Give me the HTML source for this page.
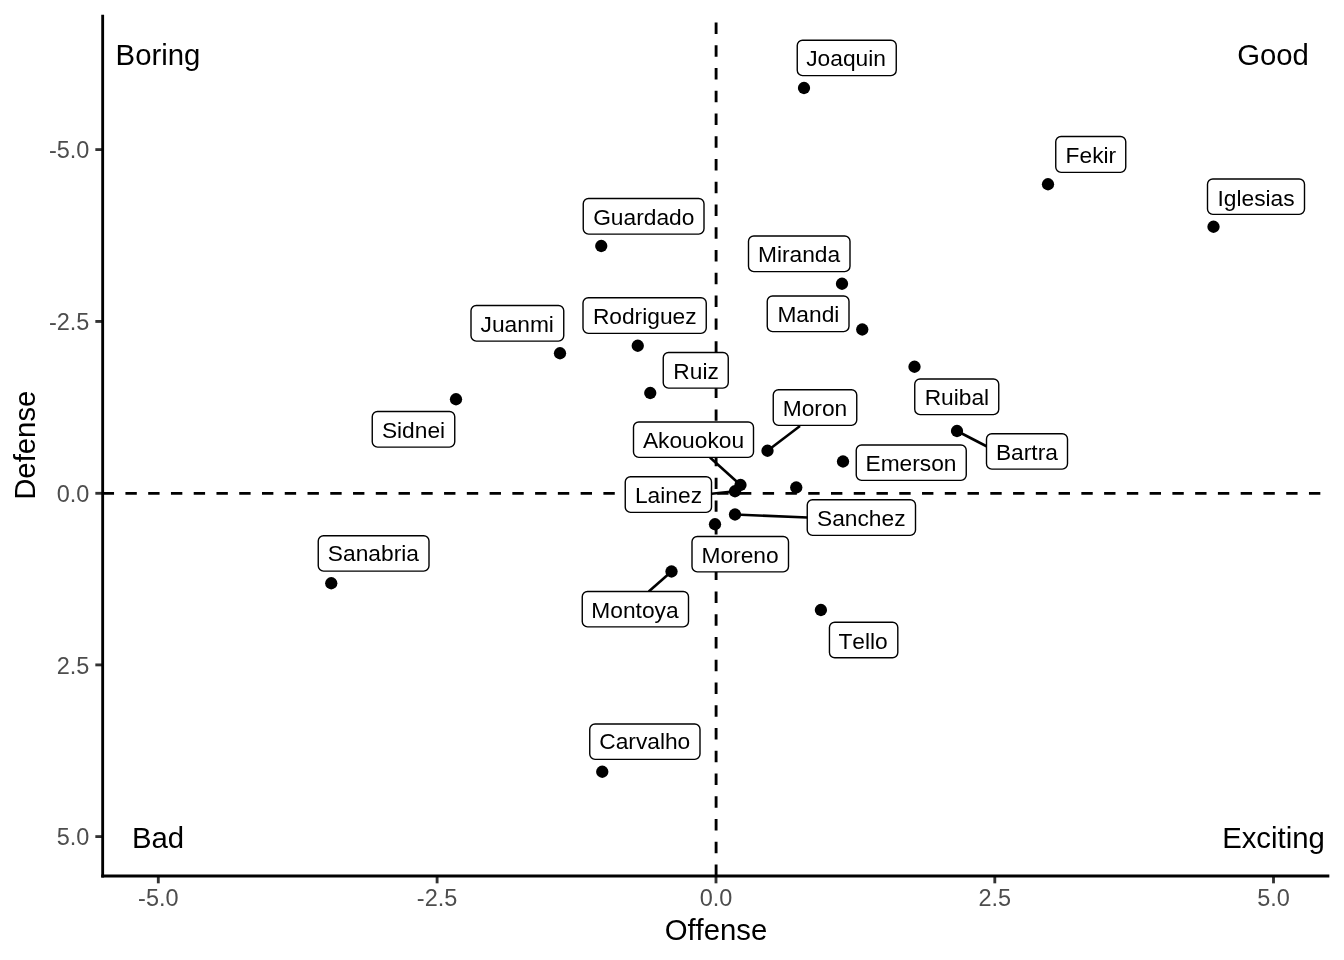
<!DOCTYPE html>
<html lang="en">
<head>
<meta charset="utf-8">
<title>Offense vs Defense</title>
<style>
html,body{margin:0;padding:0;background:#fff;}
body{width:1344px;height:960px;overflow:hidden;}
svg{display:block;}
text{font-family:"Liberation Sans",Arial,Helvetica,sans-serif;font-kerning:none;}
.tick{font-size:23.47px;fill:#4d4d4d;}
.title{font-size:29.33px;fill:#000;}
.corner{font-size:29.33px;fill:#000;}
.lab{font-size:22.76px;fill:#000;text-anchor:middle;}
.box{fill:#fff;stroke:#000;stroke-width:1.4;}
.seg{stroke:#000;stroke-width:2.55;stroke-linecap:butt;fill:none;}
.ax{stroke:#000;stroke-width:2.85;fill:none;}
.tk{stroke:#333;stroke-width:2.85;fill:none;}
.dash{stroke:#000;stroke-width:2.85;stroke-dasharray:11.38 11.38;fill:none;}
</style>
</head>
<body>
<svg width="1344" height="960" viewBox="0 0 1344 960">
<rect x="0" y="0" width="1344" height="960" fill="#ffffff"/>
<line class="dash" x1="102.67" y1="493.3" x2="1329.33" y2="493.3"/>
<line class="dash" x1="716.1" y1="876.0" x2="716.1" y2="14.67"/>
<g fill="#000">
<circle cx="804" cy="88" r="6.15"/>
<circle cx="1048" cy="184.25" r="6.15"/>
<circle cx="1213.5" cy="226.75" r="6.15"/>
<circle cx="601.25" cy="246" r="6.15"/>
<circle cx="842" cy="283.75" r="6.15"/>
<circle cx="862.25" cy="329.5" r="6.15"/>
<circle cx="637.75" cy="345.75" r="6.15"/>
<circle cx="560" cy="353.25" r="6.15"/>
<circle cx="650.25" cy="393" r="6.15"/>
<circle cx="914.5" cy="366.75" r="6.15"/>
<circle cx="456" cy="399.25" r="6.15"/>
<circle cx="767.5" cy="450.75" r="6.15"/>
<circle cx="740.5" cy="485" r="6.15"/>
<circle cx="957" cy="431" r="6.15"/>
<circle cx="843" cy="461.5" r="6.15"/>
<circle cx="735" cy="491.25" r="6.15"/>
<circle cx="735" cy="514.5" r="6.15"/>
<circle cx="331.25" cy="583.25" r="6.15"/>
<circle cx="715" cy="524.25" r="6.15"/>
<circle cx="671.5" cy="571.5" r="6.15"/>
<circle cx="820.9" cy="610" r="6.15"/>
<circle cx="602.25" cy="771.75" r="6.15"/>
<circle cx="796.25" cy="487.5" r="6.15"/>
</g>
<text class="corner" x="158" y="64.8" text-anchor="middle">Boring</text>
<text class="corner" x="1273" y="64.8" text-anchor="middle">Good</text>
<text class="corner" x="158" y="848" text-anchor="middle">Bad</text>
<text class="corner" x="1273.5" y="848" text-anchor="middle">Exciting</text>
<line class="seg" x1="767.5" y1="450.75" x2="800" y2="426"/>
<line class="seg" x1="710" y1="457.5" x2="740.5" y2="485"/>
<line class="seg" x1="957" y1="431" x2="986.5" y2="446.25"/>
<line class="seg" x1="711.5" y1="493.75" x2="735" y2="491.25"/>
<line class="seg" x1="735" y1="514.5" x2="807.5" y2="517.5"/>
<line class="seg" x1="671.5" y1="571.5" x2="648.75" y2="591.5"/>
<rect class="box" x="797.25" y="40.25" width="99.00" height="35.40" rx="5.3" ry="5.3"/><text class="lab" x="846.1" y="66.25">Joaquin</text>
<rect class="box" x="1055.75" y="136.50" width="70.00" height="35.90" rx="5.3" ry="5.3"/><text class="lab" x="1090.9" y="162.5">Fekir</text>
<rect class="box" x="1207.50" y="179.00" width="97.00" height="35.40" rx="5.3" ry="5.3"/><text class="lab" x="1256.1" y="205.5">Iglesias</text>
<rect class="box" x="583.25" y="198.50" width="120.75" height="35.65" rx="5.3" ry="5.3"/><text class="lab" x="643.75" y="225">Guardado</text>
<rect class="box" x="748.50" y="236.00" width="101.50" height="35.65" rx="5.3" ry="5.3"/><text class="lab" x="799.1" y="262">Miranda</text>
<rect class="box" x="767.25" y="296.00" width="81.75" height="35.65" rx="5.3" ry="5.3"/><text class="lab" x="808.4" y="322">Mandi</text>
<rect class="box" x="583.00" y="297.75" width="123.25" height="35.65" rx="5.3" ry="5.3"/><text class="lab" x="644.75" y="323.75">Rodriguez</text>
<rect class="box" x="471.00" y="305.50" width="92.75" height="35.65" rx="5.3" ry="5.3"/><text class="lab" x="517.25" y="331.5">Juanmi</text>
<rect class="box" x="663.25" y="352.50" width="65.00" height="35.65" rx="5.3" ry="5.3"/><text class="lab" x="696.1" y="378.75">Ruiz</text>
<rect class="box" x="914.75" y="379.00" width="84.00" height="35.65" rx="5.3" ry="5.3"/><text class="lab" x="956.9" y="405">Ruibal</text>
<rect class="box" x="372.25" y="411.50" width="82.50" height="35.65" rx="5.3" ry="5.3"/><text class="lab" x="413.5" y="437.5">Sidnei</text>
<rect class="box" x="773.25" y="389.75" width="83.50" height="35.65" rx="5.3" ry="5.3"/><text class="lab" x="815" y="415.5">Moron</text>
<rect class="box" x="633.50" y="422.00" width="120.00" height="35.40" rx="5.3" ry="5.3"/><text class="lab" x="693.5" y="447.5">Akouokou</text>
<rect class="box" x="986.50" y="433.75" width="81.00" height="35.40" rx="5.3" ry="5.3"/><text class="lab" x="1026.9" y="459.5">Bartra</text>
<rect class="box" x="856.25" y="445.00" width="110.00" height="35.40" rx="5.3" ry="5.3"/><text class="lab" x="911" y="470.75">Emerson</text>
<rect class="box" x="625.25" y="476.75" width="86.25" height="35.65" rx="5.3" ry="5.3"/><text class="lab" x="668.5" y="502.5">Lainez</text>
<rect class="box" x="807.25" y="499.75" width="108.25" height="35.65" rx="5.3" ry="5.3"/><text class="lab" x="861.25" y="525.5">Sanchez</text>
<rect class="box" x="318.25" y="535.75" width="110.75" height="35.40" rx="5.3" ry="5.3"/><text class="lab" x="373.4" y="561.25">Sanabria</text>
<rect class="box" x="692.00" y="536.50" width="96.50" height="35.40" rx="5.3" ry="5.3"/><text class="lab" x="740.1" y="562.5">Moreno</text>
<rect class="box" x="582.25" y="591.50" width="106.25" height="35.40" rx="5.3" ry="5.3"/><text class="lab" x="635" y="617.5">Montoya</text>
<rect class="box" x="829.45" y="622.30" width="68.35" height="35.50" rx="5.3" ry="5.3"/><text class="lab" x="863.1" y="648.75">Tello</text>
<rect class="box" x="589.75" y="724.00" width="110.25" height="35.40" rx="5.3" ry="5.3"/><text class="lab" x="644.75" y="749.25">Carvalho</text>
<line class="tk" x1="95.34" y1="149.6" x2="102.67" y2="149.6"/><text class="tick" x="89.4" y="158.35" text-anchor="end">-5.0</text>
<line class="tk" x1="95.34" y1="321.45" x2="102.67" y2="321.45"/><text class="tick" x="89.4" y="330.20" text-anchor="end">-2.5</text>
<line class="tk" x1="95.34" y1="493.3" x2="102.67" y2="493.3"/><text class="tick" x="89.4" y="502.05" text-anchor="end">0.0</text>
<line class="tk" x1="95.34" y1="664.9" x2="102.67" y2="664.9"/><text class="tick" x="89.4" y="673.65" text-anchor="end">2.5</text>
<line class="tk" x1="95.34" y1="836.6" x2="102.67" y2="836.6"/><text class="tick" x="89.4" y="845.35" text-anchor="end">5.0</text>
<line class="tk" x1="158.3" y1="876.0" x2="158.3" y2="883.33"/><text class="tick" x="158.3" y="906" text-anchor="middle">-5.0</text>
<line class="tk" x1="437.1" y1="876.0" x2="437.1" y2="883.33"/><text class="tick" x="437.1" y="906" text-anchor="middle">-2.5</text>
<line class="tk" x1="716.0" y1="876.0" x2="716.0" y2="883.33"/><text class="tick" x="716.0" y="906" text-anchor="middle">0.0</text>
<line class="tk" x1="994.8" y1="876.0" x2="994.8" y2="883.33"/><text class="tick" x="994.8" y="906" text-anchor="middle">2.5</text>
<line class="tk" x1="1273.5" y1="876.0" x2="1273.5" y2="883.33"/><text class="tick" x="1273.5" y="906" text-anchor="middle">5.0</text>
<line class="ax" x1="102.67" y1="14.67" x2="102.67" y2="877.42"/>
<line class="ax" x1="101.25" y1="876.0" x2="1329.33" y2="876.0"/>
<text class="title" x="716" y="939.7" text-anchor="middle">Offense</text>
<text class="title" transform="translate(35.0,445.2) rotate(-90)" text-anchor="middle">Defense</text>
</svg>
</body>
</html>
